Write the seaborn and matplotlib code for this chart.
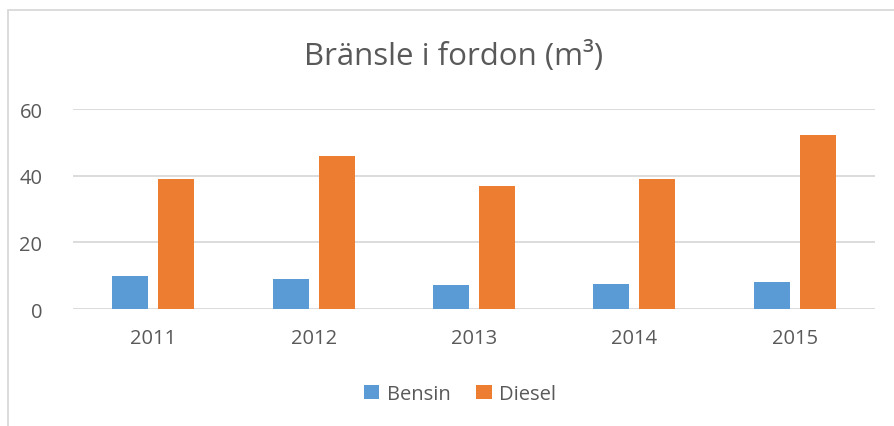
import matplotlib
matplotlib.use("Agg")
import matplotlib.pyplot as plt
import seaborn as sns
import pandas as pd
from matplotlib.patches import Rectangle

years = ["2011", "2012", "2013", "2014", "2015"]
bensin = [9.8, 8.9, 7.3, 7.4, 8.0]
diesel = [38.9, 45.9, 37.0, 39.0, 52.1]
series = ["Bensin", "Diesel"]
colors = ["#5B9BD5", "#ED7D31"]
yticks = [0, 20, 40, 60]

df = pd.DataFrame({
    "year": years * 2,
    "value": bensin + diesel,
    "series": [series[0]] * len(years) + [series[1]] * len(years),
})

sns.set_theme(style="white")
plt.rcParams["font.family"] = ["Open Sans", "DejaVu Sans"]

fig = plt.figure(figsize=(8.95, 4.27), dpi=100)
ax = fig.add_axes([73 / 895, 1 - 310 / 427, 802 / 895, 200 / 427])

sns.barplot(data=df, x="year", y="value", hue="series", palette=colors,
            saturation=1, width=0.574, gap=0.22, ax=ax, legend=True,
            zorder=3, edgecolor="none")

ax.set_ylim(0, 60)
ax.set_yticks(yticks)
ax.set_xlim(-0.5, len(years) - 0.5)
for y in yticks:
    ax.axhline(y, color="#D9D9D9", lw=1.3, zorder=1)
for s in ax.spines.values():
    s.set_visible(False)
ax.set_xlabel("")
ax.set_ylabel("")
ax.tick_params(axis="both", length=0, labelsize=14.5, colors="#595959")
ax.tick_params(axis="y", pad=22)
ax.tick_params(axis="x", pad=14)

leg = ax.legend(loc="center", bbox_to_anchor=(460 / 895, 1 - 395 / 427),
                bbox_transform=fig.transFigure, ncol=2, frameon=False,
                fontsize=14.5, handlelength=0.75, handleheight=0.75,
                handletextpad=0.35, columnspacing=1.3)
for t in leg.get_texts():
    t.set_color("#595959")

fig.text(454 / 895, 1 - 56 / 427, "Bränsle i fordon (m³)", ha="center",
         va="center", fontsize=22.5, color="#595959")

fig.patches.append(Rectangle((8 / 895, -0.1), 1.2, 1 - 11 / 427 + 0.1,
                             transform=fig.transFigure, fill=False,
                             edgecolor="#D9D9D9", lw=1.3))

fig.savefig("out.png", dpi=100)
